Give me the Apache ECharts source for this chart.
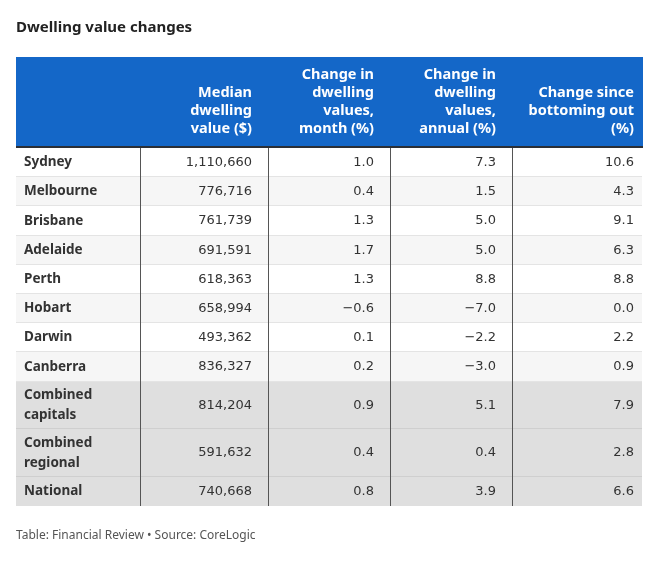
<!DOCTYPE html>
<html>
<head>
<meta charset="utf-8">
<script src="https://cdn.jsdelivr.net/npm/echarts@6/dist/echarts.min.js"></script>
<style>html,body{margin:0;padding:0;background:#fff;}#chart{width:654px;height:565px;}</style>
</head>
<body>
<div id="chart"></div>
<script>
// ---- data ----
const titleText = 'Dwelling value changes';
const footerText = 'Table: Financial Review \u2022 Source: CoreLogic';
const columnHeaders = ['', 'Median\ndwelling\nvalue ($)', 'Change in\ndwelling\nvalues,\nmonth (%)', 'Change in\ndwelling\nvalues,\nannual (%)', 'Change since\nbottoming out\n(%)'];
const regions = ['Sydney', 'Melbourne', 'Brisbane', 'Adelaide', 'Perth', 'Hobart', 'Darwin', 'Canberra', 'Combined\ncapitals', 'Combined\nregional', 'National'];
const medianValue = [1110660, 776716, 761739, 691591, 618363, 658994, 493362, 836327, 814204, 591632, 740668];
const changeMonth = [1.0, 0.4, 1.3, 1.7, 1.3, -0.6, 0.1, 0.2, 0.9, 0.4, 0.8];
const changeAnnual = [7.3, 1.5, 5.0, 5.0, 8.8, -7.0, -2.2, -3.0, 5.1, 0.4, 3.9];
const changeSinceBottom = [10.6, 4.3, 9.1, 6.3, 8.8, 0.0, 2.2, 0.9, 7.9, 2.8, 6.6];
const aggregateRows = ['Combined\ncapitals', 'Combined\nregional', 'National'];

// ---- layout / style ----
const COL_EDGES = [0, 123.5, 251.5, 374, 496, 626];
const HEADER_H = 89, HEADER_RULE = 2, ROW1_H = 29.2, ROW2_H = 47.8;
const LABEL_FONT = '"Noto Sans", "Open Sans", sans-serif';
const NUM_FONT = '"DejaVu Sans", sans-serif';

function fmtInt(v) { return v.toLocaleString('en-US'); }
function fmtPct(v) { return (v < 0 ? '\u2212' : '') + Math.abs(v).toFixed(1); }

// row extents along the value y-axis (units = px)
const rowSpans = [];
let yCursor = HEADER_H + HEADER_RULE;
regions.forEach(r => {
  const h = r.indexOf('\n') >= 0 ? ROW2_H : ROW1_H;
  rowSpans.push([yCursor, yCursor + h]);
  yCursor += h;
});
const totalH = yCursor;

// cell data: [colStart, colEnd, yStart, yEnd, rowIndex, colIndex] + text kept alongside
const cells = [];
regions.forEach((r, i) => {
  const vals = [r, fmtInt(medianValue[i]), fmtPct(changeMonth[i]), fmtPct(changeAnnual[i]), fmtPct(changeSinceBottom[i])];
  vals.forEach((t, c) => cells.push([COL_EDGES[c], COL_EDGES[c + 1], rowSpans[i][0], rowSpans[i][1], i, c, t]));
});
const headerCells = columnHeaders.map((t, c) => [COL_EDGES[c], COL_EDGES[c + 1], 0, HEADER_H, -1, c, t]);

function cellRender(params, api) {
  const x0 = api.value(0), x1 = api.value(1), y0 = api.value(2), y1 = api.value(3);
  const row = api.value(4), col = api.value(5);
  const text = cells[params.dataIndex][6];
  const p0 = api.coord([x0, y0]), p1 = api.coord([x1, y1]);
  const left = Math.round(p0[0]), right = Math.round(p1[0]), top = Math.round(p0[1]), bottom = Math.round(p1[1]);
  const isAgg = aggregateRows.indexOf(regions[row]) >= 0;
  const fill = isAgg ? '#dfdfdf' : (row % 2 === 1 ? '#f6f6f6' : '#ffffff');
  const children = [
    { type: 'rect', shape: { x: left, y: top, width: right - left, height: bottom - top }, style: { fill: fill } }
  ];
  if (row < regions.length - 1) {
    children.push({ type: 'line', shape: { x1: left, y1: bottom - 0.5, x2: right, y2: bottom - 0.5 }, style: { stroke: isAgg ? '#cfcfcf' : '#e4e4e4', lineWidth: 1 } });
  }
  if (col > 0) {
    children.push({ type: 'line', shape: { x1: left + 0.5, y1: top, x2: left + 0.5, y2: bottom }, style: { stroke: '#555', lineWidth: 1 } });
  }
  const padR = col === 4 ? 8 : 16;
  if (col === 0) {
    children.push({ type: 'text', style: { x: left + 8, y: (top + bottom) / 2, text: text, fill: '#333', font: 'bold 13.5px ' + LABEL_FONT, align: 'left', verticalAlign: 'middle', lineHeight: 20 } });
  } else {
    children.push({ type: 'text', style: { x: right - padR, y: (top + bottom) / 2, text: text, fill: '#333', font: '13px ' + NUM_FONT, align: 'right', verticalAlign: 'middle' } });
  }
  return { type: 'group', children: children };
}

function headerRender(params, api) {
  const x0 = api.value(0), x1 = api.value(1), y0 = api.value(2), y1 = api.value(3);
  const col = api.value(5);
  const text = headerCells[params.dataIndex][6];
  const p0 = api.coord([x0, y0]), pm = api.coord([x1, y1]), p1 = api.coord([x1, y1 + HEADER_RULE]);
  const left = Math.round(p0[0]), right = Math.round(p1[0]) + 1;
  const children = [
    { type: 'rect', shape: { x: left, y: p0[1], width: right - left, height: pm[1] - p0[1] }, style: { fill: '#1467c8' } },
    { type: 'rect', shape: { x: left, y: pm[1], width: right - left, height: p1[1] - pm[1] }, style: { fill: '#2b2f36' } }
  ];
  const padR = col === 4 ? 8 : 16;
  if (text) {
    children.push({ type: 'text', z2: 10, style: { x: Math.round(p1[0]) - padR, y: pm[1] - 8, text: text, fill: '#fff', font: 'bold 14.5px ' + LABEL_FONT, align: 'right', verticalAlign: 'bottom', lineHeight: 18 } });
  }
  return { type: 'group', children: children };
}

const chart = echarts.init(document.getElementById('chart'), null, { renderer: 'canvas' });
chart.setOption({
  animation: false,
  backgroundColor: '#fff',
  title: [
    { text: titleText, left: 16, top: 20, padding: 0, textStyle: { fontFamily: LABEL_FONT, fontSize: 15, fontWeight: 'bold', color: '#222' } },
    { text: footerText, left: 16, top: 530, padding: 0, textStyle: { fontFamily: LABEL_FONT, fontSize: 12, fontWeight: 'normal', color: '#555' } }
  ],
  grid: { left: 16, right: 12, top: 57, height: totalH },
  xAxis: { type: 'value', min: 0, max: COL_EDGES[COL_EDGES.length - 1], show: false },
  yAxis: { type: 'value', min: 0, max: totalH, inverse: true, show: false },
  series: [
    { type: 'custom', renderItem: headerRender, data: headerCells.map(c => c.slice(0, 6)), silent: true },
    { type: 'custom', renderItem: cellRender, data: cells.map(c => c.slice(0, 6)), silent: true }
  ]
});
</script>
</body>
</html>
